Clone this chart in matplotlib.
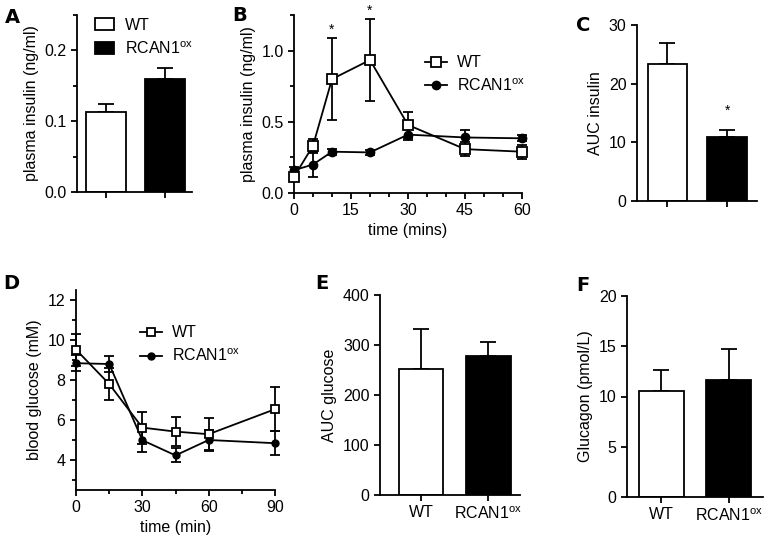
import matplotlib
matplotlib.use('Agg')
import matplotlib.pyplot as plt
from matplotlib.patches import Patch
from matplotlib.lines import Line2D
from matplotlib.ticker import MultipleLocator

plt.rcParams['font.family'] = ['Liberation Sans', 'DejaVu Sans']
plt.rcParams['mathtext.fontset'] = 'custom'
plt.rcParams['mathtext.rm'] = 'Liberation Sans'
plt.rcParams['mathtext.it'] = 'Liberation Sans'
plt.rcParams['font.size'] = 10
plt.rcParams['axes.linewidth'] = 1.3
plt.rcParams['xtick.major.width'] = 1.3
plt.rcParams['ytick.major.width'] = 1.3
plt.rcParams['xtick.minor.width'] = 1.3
plt.rcParams['ytick.minor.width'] = 1.3

RCAN = r'RCAN1$^{\mathrm{ox}}$'
groups = ['WT', RCAN]

# ---- data ----
# A: fasting plasma insulin (ng/ml)
insulin_base = [0.113, 0.159]
insulin_base_err = [0.012, 0.016]

# B: insulin time course
t_ins = [0, 5, 10, 20, 30, 45, 60]
ins_wt = [0.113, 0.332, 0.80, 0.934, 0.478, 0.308, 0.29]
ins_wt_err = [0.03, 0.05, 0.29, 0.29, 0.09, 0.05, 0.05]
ins_rc = [0.16, 0.20, 0.29, 0.285, 0.41, 0.39, 0.384]
ins_rc_err = [0.02, 0.09, 0.02, 0.02, 0.04, 0.055, 0.02]
ins_star_t = [10, 20]

# C: AUC insulin
auc_ins = [23.3, 10.97]
auc_ins_err = [3.6, 1.05]

# D: glucose time course
t_glu = [0, 15, 30, 45, 60, 90]
glu_wt = [9.52, 7.80, 5.62, 5.42, 5.29, 6.54]
glu_wt_err = [0.8, 0.8, 0.8, 0.72, 0.82, 1.1]
glu_rc = [8.84, 8.80, 4.99, 4.23, 5.0, 4.84]
glu_rc_err = [0.4, 0.4, 0.6, 0.35, 0.52, 0.6]

# E: AUC glucose
auc_glu = [253, 278]
auc_glu_err = [80, 29]

# F: glucagon (pmol/L)
glucagon = [10.5, 11.6]
glucagon_err = [2.1, 3.15]

W, H = 766, 544
fig = plt.figure(figsize=(W / 100, H / 100), dpi=100)


def add_ax(left, right, top, bottom):
    ax = fig.add_axes([left / W, 1 - bottom / H, (right - left) / W, (bottom - top) / H])
    ax.spines['top'].set_visible(False)
    ax.spines['right'].set_visible(False)
    ax.tick_params(direction='out', length=4, labelsize=11.5)
    ax.tick_params(which='minor', direction='out', length=3)
    return ax


def bar_panel(ax, vals, errs, width, xlim, show_names):
    x = [0, 1]
    ax.bar(x, vals, width=width, color=['white', 'black'], edgecolor='black',
           linewidth=1.3, zorder=2)
    ax.errorbar(x, vals, yerr=[[0, 0], errs], fmt='none', ecolor='black',
                elinewidth=1.3, capsize=6, capthick=1.3, zorder=1)
    ax.set_xlim(*xlim)
    ax.set_xticks(x)
    if show_names:
        ax.set_xticklabels(groups, fontsize=11.5)
    else:
        ax.set_xticklabels([])


def line_panel(ax, t, wt, wt_err, rc, rc_err, ms_sq, ms_ci):
    ax.errorbar(t, rc, yerr=rc_err, fmt='-o', color='black', mfc='black',
                ms=ms_ci, lw=1.3, elinewidth=1.3, capsize=3.5, capthick=1.3,
                zorder=3, clip_on=False)
    ax.errorbar(t, wt, yerr=wt_err, fmt='-s', color='black', mfc='white',
                mec='black', mew=1.3, ms=ms_sq, lw=1.3, elinewidth=1.3,
                capsize=3.5, capthick=1.3, zorder=4, clip_on=False)


def line_legend(ax, loc, ms_sq, ms_ci):
    handles = [Line2D([], [], color='black', marker='s', mfc='white', mec='black',
                      mew=1.3, ms=ms_sq, lw=1.3),
               Line2D([], [], color='black', marker='o', mfc='black', ms=ms_ci, lw=1.3)]
    ax.legend(handles, groups, loc='upper left', bbox_to_anchor=loc, frameon=False,
              fontsize=11.5, handlelength=1.4, handletextpad=0.6, labelspacing=0.45,
              borderaxespad=0)


# ---- A ----
axA = add_ax(77, 192, 15, 192)
bar_panel(axA, insulin_base, insulin_base_err, 0.68, (-0.5, 1.46), False)
axA.set_ylim(0, 0.25)
axA.yaxis.set_major_locator(MultipleLocator(0.1))
axA.yaxis.set_minor_locator(MultipleLocator(0.05))
axA.set_ylabel('plasma insulin (ng/ml)', fontsize=11.5, labelpad=4)
axA.legend([Patch(facecolor='white', edgecolor='black', lw=1.3),
            Patch(facecolor='black', edgecolor='black', lw=1.3)], groups,
           loc='upper left', bbox_to_anchor=(0.1, 1.02), frameon=False, fontsize=11.5,
           handlelength=1.2, handleheight=0.8, handletextpad=0.7, labelspacing=0.45,
           borderaxespad=0)

# ---- B ----
axB = add_ax(294, 522, 15, 193)
line_panel(axB, t_ins, ins_wt, ins_wt_err, ins_rc, ins_rc_err, 7, 6)
axB.set_xlim(0, 60)
axB.set_ylim(0, 1.25)
axB.xaxis.set_major_locator(MultipleLocator(15))
axB.xaxis.set_minor_locator(MultipleLocator(5))
axB.yaxis.set_major_locator(MultipleLocator(0.5))
axB.yaxis.set_minor_locator(MultipleLocator(0.25))
axB.set_xlabel('time (mins)', fontsize=11.5, labelpad=3)
axB.set_ylabel('plasma insulin (ng/ml)', fontsize=11.5, labelpad=4)
for ts in ins_star_t:
    i = t_ins.index(ts)
    axB.text(ts, ins_wt[i] + ins_wt_err[i] + 0.03, '*', ha='center', va='baseline',
             fontsize=10, clip_on=False)
line_legend(axB, (0.545, 0.81), 7, 6)

# ---- C ----
axC = add_ax(637, 757, 25, 201)
bar_panel(axC, auc_ins, auc_ins_err, 0.66, (-0.51, 1.5), False)
axC.set_ylim(0, 30)
axC.yaxis.set_major_locator(MultipleLocator(10))
axC.set_ylabel('AUC insulin', fontsize=11.5, labelpad=4)
axC.text(1, auc_ins[1] + auc_ins_err[1] + 2.2, '*', ha='center', va='bottom', fontsize=10)

# ---- D ----
axD = add_ax(76, 275, 290, 490)
line_panel(axD, t_glu, glu_wt, glu_wt_err, glu_rc, glu_rc_err, 6, 5)
axD.set_xlim(0, 90)
axD.set_ylim(2.5, 12.5)
axD.xaxis.set_major_locator(MultipleLocator(30))
axD.xaxis.set_minor_locator(MultipleLocator(15))
axD.yaxis.set_major_locator(MultipleLocator(2))
axD.yaxis.set_minor_locator(MultipleLocator(1))
axD.set_xlabel('time (min)', fontsize=11.5, labelpad=3)
axD.set_ylabel('blood glucose (mM)', fontsize=11.5, labelpad=4)
line_legend(axD, (0.29, 0.855), 6, 5)

# ---- E ----
axE = add_ax(380, 520, 295, 495)
bar_panel(axE, auc_glu, auc_glu_err, 0.66, (-0.61, 1.47), True)
axE.set_ylim(0, 400)
axE.yaxis.set_major_locator(MultipleLocator(100))
axE.set_ylabel('AUC glucose', fontsize=11.5, labelpad=4)

# ---- F ----
axF = add_ax(627, 763, 296, 497)
bar_panel(axF, glucagon, glucagon_err, 0.67, (-0.51, 1.51), True)
axF.set_ylim(0, 20)
axF.yaxis.set_major_locator(MultipleLocator(5))
axF.set_ylabel('Glucagon (pmol/L)', fontsize=11.5, labelpad=4)

# panel letters
for lab, x, y in [('A', 5, 8), ('B', 232, 6), ('C', 576, 16),
                  ('D', 3, 274), ('E', 315, 274), ('F', 576, 276)]:
    fig.text(x / W, 1 - y / H, lab, fontsize=14, fontweight='bold', va='top', ha='left',
             family=['DejaVu Sans'])

fig.savefig('out.png', dpi=100)
